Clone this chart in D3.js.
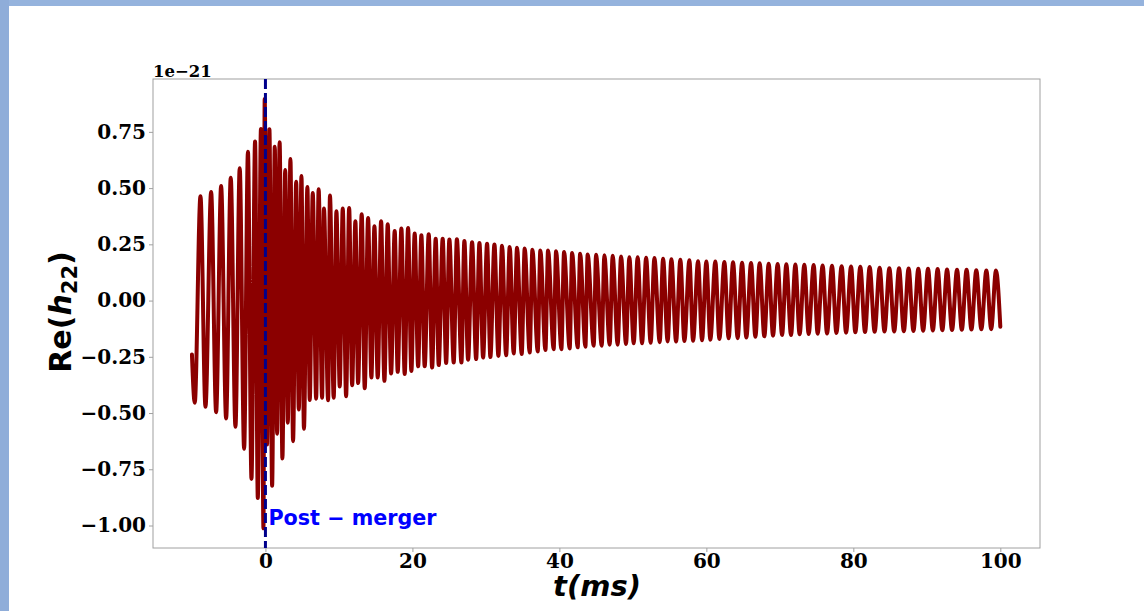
<!DOCTYPE html>
<html>
<head>
<meta charset="utf-8">
<script src="https://cdn.jsdelivr.net/npm/d3@7"></script>
<style>
  body { margin: 0; background: #fff; }
  .tick text { font-family: "DejaVu Serif", serif; font-weight: bold; font-size: 20px; fill: #000; }
  .tick line { stroke: #a0a0a0; }
</style>
</head>
<body>
<div id="chart"></div>
<script>

/*
 * DATA (time in ms, strain in units of 1e-21)
 */

var startPoint = [-10, -0.24];
var endPoint = [100, -0.116];

var peakTimes = [-8.84, -7.39, -6.03, -4.72, -3.50, -2.38, -1.41, -0.61, -0.10,
  0.54, 1.27, 1.93, 2.69, 3.40, 4.18, 4.90, 5.71, 6.44, 7.24, 7.96, 8.78, 9.66,
  10.52, 11.39, 12.24, 13.10, 13.97, 14.83, 15.74, 16.64, 17.59, 18.50, 19.41,
  20.31, 21.22, 22.22, 23.17, 24.12, 25.03, 26.05, 27.07, 28.12, 29.12, 30.16,
  31.16, 32.20, 33.24, 34.24, 35.28, 36.33, 37.41, 38.46, 39.55, 40.64, 41.73,
  42.82, 43.85, 44.99, 46.12, 47.25, 48.39, 49.52, 50.65, 51.80, 52.93, 54.11,
  55.24, 56.46, 57.69, 58.87, 60.00, 61.22, 62.45, 63.63, 64.86, 66.08, 67.25,
  68.48, 69.70, 70.88, 72.11, 73.33, 74.60, 75.82, 77.10, 78.41, 79.69, 80.95,
  82.22, 83.58, 84.90, 86.22, 87.52, 88.84, 90.16, 91.47, 92.75, 94.11, 95.41,
  96.73, 98.10, 99.41];

var peakValues = [0.464, 0.483, 0.509, 0.546, 0.588, 0.662, 0.707, 0.763, 0.896,
  0.762, 0.684, 0.704, 0.580, 0.629, 0.528, 0.554, 0.505, 0.478, 0.495, 0.409, 0.467, 0.397,
  0.409, 0.412, 0.353, 0.384, 0.367, 0.330, 0.353, 0.339, 0.309, 0.320, 0.323,
  0.298, 0.290, 0.295, 0.275, 0.275, 0.271, 0.273, 0.265, 0.259, 0.256, 0.253,
  0.249, 0.244, 0.238, 0.235, 0.232, 0.226, 0.223, 0.223, 0.219, 0.216, 0.211,
  0.208, 0.205, 0.204, 0.201, 0.199, 0.196, 0.193, 0.193, 0.190, 0.189, 0.186,
  0.184, 0.182, 0.179, 0.175, 0.174, 0.174, 0.171, 0.170, 0.168, 0.167, 0.166,
  0.164, 0.163, 0.161, 0.160, 0.159, 0.158, 0.156, 0.155, 0.153, 0.152, 0.150,
  0.149, 0.146, 0.144, 0.144, 0.143, 0.141, 0.141, 0.140, 0.138, 0.137, 0.137,
  0.135, 0.134, 0.134];

var troughTimes = [-9.62, -8.16, -6.71, -5.35, -4.08, -2.90, -1.90, -1.04, -0.27,
  0.22, 0.91, 1.59, 2.31, 3.04, 3.76, 4.54, 5.24, 6.03, 6.90, 7.71, 8.53, 9.29,
  10.11, 10.98, 11.80, 12.61, 13.51, 14.42, 15.28, 16.19, 17.10, 18.00, 18.95,
  19.86, 20.78, 21.67, 22.68, 23.58, 24.59, 25.62, 26.67, 27.58, 28.67, 29.62,
  30.61, 31.70, 32.75, 33.78, 34.87, 35.96, 37.05, 38.10, 39.22, 40.27, 41.40,
  42.49, 43.54, 44.67, 45.76, 46.84, 47.93, 49.07, 50.11, 51.25, 52.42, 53.65,
  54.73, 55.88, 57.01, 58.19, 59.41, 60.54, 61.77, 63.03, 64.26, 65.44, 66.67,
  67.89, 69.07, 70.30, 71.52, 72.69, 73.92, 75.14, 76.42, 77.69, 79.01, 80.27,
  81.59, 82.90, 84.24, 85.56, 86.87, 88.18, 89.50, 90.82, 92.11, 93.43, 94.76,
  96.07, 97.42, 98.76];

var troughValues = [-0.454, -0.472, -0.496, -0.524, -0.561, -0.659, -0.793, -0.878, -1.012,
  -0.640, -0.823, -0.592, -0.702, -0.543, -0.625, -0.484, -0.570, -0.442, -0.436, -0.432, -0.443, -0.432,
  -0.382, -0.425, -0.376, -0.367, -0.390, -0.342, -0.342, -0.357, -0.324, -0.317, -0.327,
  -0.313, -0.292, -0.292, -0.298, -0.287, -0.278, -0.275, -0.275, -0.263, -0.260, -0.253,
  -0.251, -0.246, -0.243, -0.235, -0.238, -0.231, -0.226, -0.220, -0.216, -0.216, -0.213,
  -0.208, -0.205, -0.201, -0.201, -0.196, -0.196, -0.193, -0.190, -0.190, -0.188, -0.185,
  -0.182, -0.182, -0.180, -0.179, -0.176, -0.174, -0.171, -0.168, -0.167, -0.164, -0.161,
  -0.159, -0.156, -0.153, -0.153, -0.150, -0.149, -0.147, -0.146, -0.144, -0.143, -0.141,
  -0.140, -0.139, -0.138, -0.137, -0.136, -0.135, -0.134, -0.133, -0.132, -0.131, -0.130,
  -0.129, -0.128, -0.127];

var mergerTime = 0;
var xTicks = [0, 20, 40, 60, 80, 100];
var yTicks = [-1.00, -0.75, -0.50, -0.25, 0.00, 0.25, 0.50, 0.75];

/*
 * CONSTANTS
 */

var constants = {
  width: 1144,
  height: 611,
  left: 153, right: 1040, top: 79, bottom: 548,
  waveColor: '#8b0000',
  mergerColor: '#00008b',
  frameColor: '#a0a0a0'
};

/*
 * HELPERS
 */

// put peaks, troughs and the two ends in one time ordered list
function buildWave() {
  var pts = [startPoint];
  peakTimes.forEach(function (t, i) { pts.push([t, peakValues[i]]); });
  troughTimes.forEach(function (t, i) { pts.push([t, troughValues[i]]); });
  pts.push(endPoint);
  pts.sort(function (a, b) { return a[0] - b[0]; });
  return pts;
}

/*
 * DRAWING
 */

function drawChart() {
  var c = constants;
  var svg = d3.select('#chart').append('svg')
    .attr('width', c.width)
    .attr('height', c.height);

  // slide background strips
  svg.append('rect').attr('x', 0).attr('y', 0).attr('width', c.width).attr('height', c.height).attr('fill', '#fff');
  svg.append('rect').attr('x', 0).attr('y', 0).attr('width', c.width).attr('height', 6).attr('fill', '#95b3dd');
  svg.append('rect').attr('x', 0).attr('y', 0).attr('width', 9).attr('height', c.height).attr('fill', '#8fadd9');

  var x = d3.scaleLinear().domain([-15.3, 105.4]).range([c.left, c.right]);
  var y = d3.scaleLinear().domain([-1.10, 0.985]).range([c.bottom, c.top]);

  var xAxis = svg.append('g')
    .attr('transform', 'translate(0,' + c.bottom + ')')
    .call(d3.axisBottom(x).tickValues(xTicks).tickSize(4).tickPadding(2).tickFormat(d3.format('d')));
  var yAxis = svg.append('g')
    .attr('transform', 'translate(' + c.left + ',0)')
    .call(d3.axisLeft(y).tickValues(yTicks).tickSize(4).tickPadding(3).tickFormat(d3.format('.2f')));
  xAxis.select('.domain').remove();
  yAxis.select('.domain').remove();

  svg.append('rect')
    .attr('x', c.left).attr('y', c.top)
    .attr('width', c.right - c.left).attr('height', c.bottom - c.top)
    .attr('fill', 'none').attr('stroke', c.frameColor).attr('stroke-width', 1);

  var line = d3.line()
    .x(function (d) { return x(d[0]); })
    .y(function (d) { return y(d[1]); })
    .curve(d3.curveMonotoneX);

  svg.append('path')
    .datum(buildWave())
    .attr('d', line)
    .attr('fill', 'none')
    .attr('stroke', c.waveColor)
    .attr('stroke-width', 4)
    .attr('stroke-linejoin', 'round')
    .attr('stroke-linecap', 'round');

  // merger marker
  svg.append('line')
    .attr('x1', x(mergerTime)).attr('x2', x(mergerTime))
    .attr('y1', c.top).attr('y2', c.bottom)
    .attr('stroke', c.mergerColor)
    .attr('stroke-width', 3)
    .attr('stroke-dasharray', '10,4');

  svg.append('text')
    .attr('x', x(mergerTime) + 3).attr('y', 525)
    .attr('font-family', 'DejaVu Sans, sans-serif')
    .attr('font-weight', 'bold').attr('font-size', 20.7)
    .attr('fill', '#0000ff')
    .text('Post \u2212 merger');

  // offset text
  svg.append('text')
    .attr('x', c.left).attr('y', 77)
    .attr('font-family', 'DejaVu Serif, serif')
    .attr('font-weight', 'bold').attr('font-size', 16.5)
    .text('1e\u221221');

  // x label
  var xl = svg.append('text')
    .attr('x', (c.left + c.right) / 2 + 0.5).attr('y', 596)
    .attr('text-anchor', 'middle')
    .attr('font-family', 'DejaVu Sans, sans-serif')
    .attr('font-weight', 'bold').attr('font-size', 29)
    .attr('font-style', 'italic');
  xl.text('t(ms)');

  // y label
  var yl = svg.append('text')
    .attr('transform', 'translate(71,312) rotate(-90)')
    .attr('text-anchor', 'middle')
    .attr('font-family', 'DejaVu Sans, sans-serif')
    .attr('font-weight', 'bold').attr('font-size', 30);
  yl.append('tspan').text('Re(');
  yl.append('tspan').attr('font-style', 'italic').text('h');
  yl.append('tspan').attr('font-size', 21).attr('dy', 6).text('22');
  yl.append('tspan').attr('dy', -6).text(')');
}

drawChart();

</script>
</body>
</html>
